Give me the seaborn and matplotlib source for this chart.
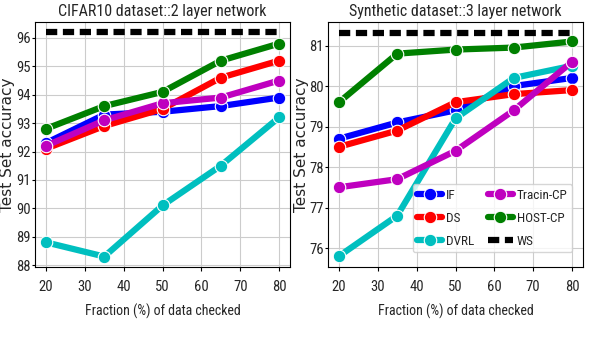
import numpy as np
import pandas as pd
import matplotlib
matplotlib.use("Agg")
import matplotlib.pyplot as plt
import seaborn as sns

# Data
fractions = [20, 35, 50, 65, 80]
methods = ["IF", "DS", "DVRL", "Tracin-CP", "HOST-CP"]
colors = ["b", "r", "c", "m", "g"]

cifar_if = [92.3, 93.3, 93.4, 93.6, 93.9]
cifar_ds = [92.1, 92.9, 93.5, 94.6, 95.2]
cifar_dvrl = [88.8, 88.3, 90.1, 91.5, 93.2]
cifar_tracin = [92.2, 93.1, 93.7, 93.9, 94.5]
cifar_host = [92.8, 93.6, 94.1, 95.2, 95.8]
cifar_ws = 96.2

syn_if = [78.7, 79.1, 79.4, 80.0, 80.2]
syn_ds = [78.5, 78.9, 79.6, 79.8, 79.9]
syn_dvrl = [75.8, 76.8, 79.2, 80.2, 80.5]
syn_tracin = [77.5, 77.7, 78.4, 79.4, 80.6]
syn_host = [79.6, 80.8, 80.9, 80.95, 81.1]
syn_ws = 81.3

panels = [
    ("CIFAR10 dataset::2 layer network",
     [cifar_if, cifar_ds, cifar_dvrl, cifar_tracin, cifar_host], cifar_ws,
     (87.93, 96.56), range(88, 97)),
    ("Synthetic dataset::3 layer network",
     [syn_if, syn_ds, syn_dvrl, syn_tracin, syn_host], syn_ws,
     (75.53, 81.58), range(76, 82)),
]

sns.set_style("whitegrid", {"axes.edgecolor": "black", "grid.color": "#cccccc"})
plt.rcParams["font.family"] = ["DejaVu Sans"]
# narrow face for ticks, titles and legend
narrow = ["Roboto Condensed", "Roboto"]

fig, axes = plt.subplots(1, 2, figsize=(5.96, 3.5), dpi=100)
fig.subplots_adjust(left=0.059, right=0.978, top=0.937, bottom=0.237, wspace=0.15)

for ax, (title, series, ws, ylim, yticks) in zip(axes, panels):
    for name, col, vals in zip(methods, colors, series):
        sns.lineplot(x=fractions, y=vals, ax=ax, color=col, label=name,
                     linewidth=4.5, marker="o", markersize=9,
                     markerfacecolor=col, markeredgecolor="white",
                     markeredgewidth=0.8)
    sns.lineplot(x=[20, 80], y=[ws, ws], ax=ax, color="k", label="WS",
                 linewidth=4.5, linestyle=(0, (1.8, 0.9)))
    ax.set_xlim(17.2, 82.8)
    ax.set_ylim(*ylim)
    ax.set_xticks([20, 30, 40, 50, 60, 70, 80])
    ax.set_yticks(list(yticks))
    ax.tick_params(axis="y", labelsize=10.5, length=2, width=0.8,
                   color="black", pad=1, left=True)
    ax.tick_params(axis="x", labelsize=10.5, length=3, width=0.8,
                   color="black", pad=6, bottom=True)
    for lab in ax.get_xticklabels() + ax.get_yticklabels():
        lab.set_family(narrow)
    ax.set_title(title, fontsize=11.5, family=narrow, pad=4)
    ax.set_xlabel("Fraction (%) of data checked", fontsize=10, family=narrow,
                  labelpad=7)
    ax.set_ylabel("Test Set accuracy", fontsize=11)
    ax.get_legend().remove()
    for sp in ax.spines.values():
        sp.set_color("black")
        sp.set_linewidth(0.8)

axes[0].yaxis.set_label_coords(-0.078, 0.5)
axes[1].yaxis.set_label_coords(-0.075, 0.5)

leg = axes[1].legend(ncol=2, loc="lower right", frameon=True,
                     prop={"family": narrow, "size": 9.5},
                     handlelength=1.9, handletextpad=0.3, columnspacing=1.0,
                     borderpad=0.35, labelspacing=0.75,
                     bbox_to_anchor=(0.984, 0.033))

fig.savefig("out.png", dpi=100)
